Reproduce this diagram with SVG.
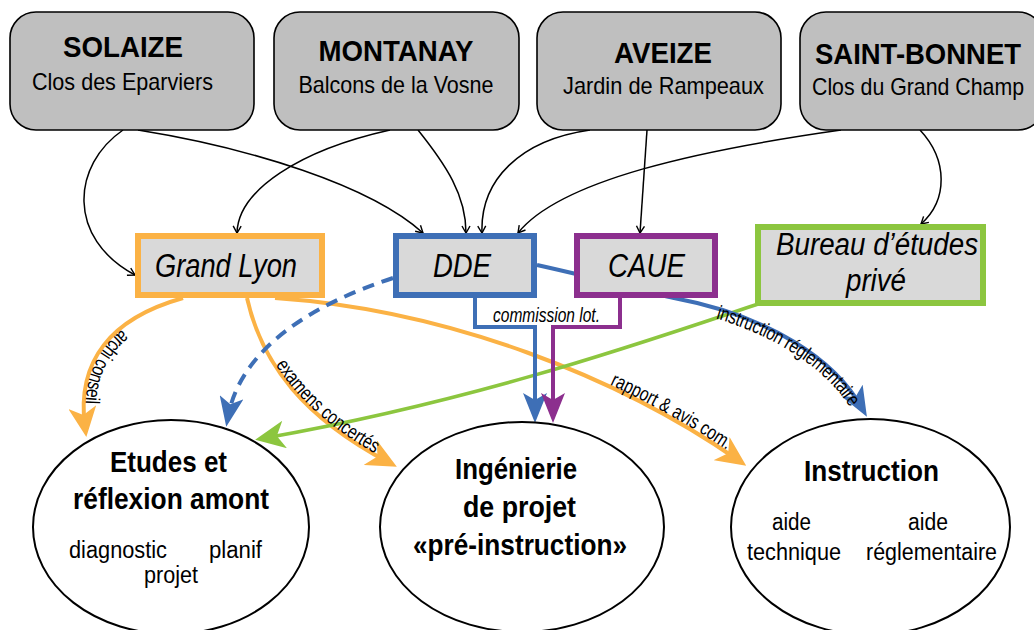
<svg xmlns="http://www.w3.org/2000/svg" width="1034" height="630" viewBox="0 0 1034 630">
<style>
text{font-family:"Liberation Sans",Arial,sans-serif;fill:#000}
.top{fill:#bfbfbf;stroke:#000;stroke-width:1.6}
.mid{fill:#d9d9d9;stroke-width:6}
.ell{fill:#fff;stroke:#000;stroke-width:2}
.tt{font-size:30px;font-weight:bold;text-anchor:middle}
.ts{font-size:24px;text-anchor:middle}
.ti{font-size:33px;font-style:italic;text-anchor:middle}
.eb{font-size:30px;font-weight:bold;text-anchor:middle}
.en{font-size:23px;text-anchor:middle}
.lbl{font-size:20px}
.blk{fill:none;stroke:#000;stroke-width:1.5}
.or{fill:none;stroke:#fbb245;stroke-width:4}
.bl{fill:none;stroke:#3e6fb6;stroke-width:4}
.pu{fill:none;stroke:#8c2f8e;stroke-width:4}
.gr{fill:none;stroke:#8cc63f;stroke-width:3.5}
</style>
<defs>
<marker id="aK" viewBox="-2 -2 12 12" markerWidth="12" markerHeight="12" refX="7" refY="4" orient="auto" markerUnits="userSpaceOnUse"><path d="M0,0 L7,4 L0,8" fill="none" stroke="#000" stroke-width="1.4"/></marker>
<marker id="aO" viewBox="0 0 30 28" markerWidth="30" markerHeight="28" refX="20" refY="14" orient="auto" markerUnits="userSpaceOnUse"><path d="M0,0 L30,14 L0,28 L8,14 Z" fill="#fbb245"/></marker>
<marker id="aB" viewBox="0 0 30 24" markerWidth="30" markerHeight="24" refX="20" refY="12" orient="auto" markerUnits="userSpaceOnUse"><path d="M0,0 L30,12 L0,24 L7,12 Z" fill="#3e6fb6"/></marker>
<marker id="aP" viewBox="0 0 30 24" markerWidth="30" markerHeight="24" refX="20" refY="12" orient="auto" markerUnits="userSpaceOnUse"><path d="M0,0 L30,12 L0,24 L7,12 Z" fill="#8c2f8e"/></marker>
<marker id="aG" viewBox="0 0 30 28" markerWidth="30" markerHeight="28" refX="20" refY="14" orient="auto" markerUnits="userSpaceOnUse"><path d="M0,0 L30,14 L0,28 L8,14 Z" fill="#8cc63f"/></marker>
</defs>

<g id="connectors">
<path class="blk" d="M123,130 C72,165 66,238 135,275" marker-end="url(#aK)"/>
<path class="blk" d="M138,130 C250,148 370,185 423,233" marker-end="url(#aK)"/>
<path class="blk" d="M390,130 C300,150 238,190 237,233" marker-end="url(#aK)"/>
<path class="blk" d="M418,130 C446,165 466,195 466,233" marker-end="url(#aK)"/>
<path class="blk" d="M590,130 C520,140 480,180 482,233" marker-end="url(#aK)"/>
<path class="blk" d="M647,130 L640,233" marker-end="url(#aK)"/>
<path class="blk" d="M841,130 C700,150 560,180 518,233" marker-end="url(#aK)"/>
<path class="blk" d="M920,130 C948,160 948,200 921,224" marker-end="url(#aK)"/>

<path id="pArchi" class="or" d="M183,298 C112,318 76,360 85,427" marker-end="url(#aO)"/>
<path id="pExam" class="or" d="M247,298 C262,365 305,418 388,462" marker-end="url(#aO)"/>
<path id="pRapp" class="or" d="M275,298 C450,310 620,378 738,460" marker-end="url(#aO)"/>
<path class="gr" d="M761,303 C650,340 480,400 265,438" marker-end="url(#aG)"/>
<path class="bl" d="M393,278 C310,305 240,350 228,417" stroke-dasharray="12 8" marker-end="url(#aB)"/>
<path id="pInstr" class="bl" d="M537,265 C600,279 640,290 674,298 C770,316 835,360 862,408" marker-end="url(#aB)"/>
<path class="bl" d="M475,298 V327 H535 V413" marker-end="url(#aB)"/>
<path class="pu" d="M620,298 V327 H553 V413" marker-end="url(#aP)"/>

<text class="lbl" dy="-2"><textPath href="#pArchi" startOffset="87%" text-anchor="end" textLength="87" lengthAdjust="spacingAndGlyphs">archi conseil</textPath></text>
<text class="lbl" dy="-1"><textPath href="#pExam" startOffset="93%" text-anchor="end" textLength="135" lengthAdjust="spacingAndGlyphs">examens concertés</textPath></text>
<text class="lbl" dy="-2"><textPath href="#pRapp" startOffset="97%" text-anchor="end" textLength="134" lengthAdjust="spacingAndGlyphs">rapport &amp; avis com.</textPath></text>
<text class="lbl" dy="10"><textPath href="#pInstr" startOffset="98%" text-anchor="end" textLength="171" lengthAdjust="spacingAndGlyphs">instruction réglementaire</textPath></text>
<text class="lbl" x="493" y="322" font-style="italic" textLength="107" lengthAdjust="spacingAndGlyphs">commission lot.</text>
</g>

<g id="solaize">
<rect class="top" x="10" y="12" width="244" height="118" rx="26"/>
<text class="tt" x="123" y="57" textLength="120" lengthAdjust="spacingAndGlyphs">SOLAIZE</text>
<text class="ts" x="122.5" y="90" textLength="181" lengthAdjust="spacingAndGlyphs">Clos des Eparviers</text>
</g>
<g id="montanay">
<rect class="top" x="274" y="12" width="245" height="118" rx="26"/>
<text class="tt" x="396" y="61" textLength="155" lengthAdjust="spacingAndGlyphs">MONTANAY</text>
<text class="ts" x="396" y="93" textLength="195" lengthAdjust="spacingAndGlyphs">Balcons de la Vosne</text>
</g>
<g id="aveize">
<rect class="top" x="537" y="12" width="244" height="118" rx="26"/>
<text class="tt" x="663" y="63" textLength="98" lengthAdjust="spacingAndGlyphs">AVEIZE</text>
<text class="ts" x="663.5" y="94" textLength="201" lengthAdjust="spacingAndGlyphs">Jardin de Rampeaux</text>
</g>
<g id="saint-bonnet">
<rect class="top" x="800" y="12" width="244" height="118" rx="26"/>
<text class="tt" x="918" y="64" textLength="206" lengthAdjust="spacingAndGlyphs">SAINT-BONNET</text>
<text class="ts" x="918" y="95" textLength="212" lengthAdjust="spacingAndGlyphs">Clos du Grand Champ</text>
</g>

<g id="grand-lyon">
<rect class="mid" x="138" y="236" width="184" height="59" stroke="#fbb245"/>
<text class="ti" x="226" y="277" textLength="142" lengthAdjust="spacingAndGlyphs">Grand Lyon</text>
</g>
<g id="dde">
<rect class="mid" x="396" y="236" width="138" height="59" stroke="#3e6fb6"/>
<text class="ti" x="462" y="277" textLength="58" lengthAdjust="spacingAndGlyphs">DDE</text>
</g>
<g id="caue">
<rect class="mid" x="577" y="236" width="138" height="59" stroke="#8c2f8e"/>
<text class="ti" x="646.5" y="277" textLength="77" lengthAdjust="spacingAndGlyphs">CAUE</text>
</g>
<g id="bureau">
<rect class="mid" x="758" y="227" width="225" height="76" stroke="#8cc63f"/>
<text class="ti" x="877" y="255" style="font-size:31px" textLength="202" lengthAdjust="spacingAndGlyphs">Bureau d’études</text>
<text class="ti" x="876" y="291" style="font-size:31px" textLength="60" lengthAdjust="spacingAndGlyphs">privé</text>
</g>

<g id="etudes">
<ellipse class="ell" cx="171" cy="527" rx="138" ry="107"/>
<text class="eb" x="168.5" y="472" textLength="117" lengthAdjust="spacingAndGlyphs">Etudes et</text>
<text class="eb" x="171" y="509" textLength="196" lengthAdjust="spacingAndGlyphs">réflexion amont</text>
<text class="en" x="118" y="558" textLength="98" lengthAdjust="spacingAndGlyphs">diagnostic</text>
<text class="en" x="235.5" y="558" textLength="53" lengthAdjust="spacingAndGlyphs">planif</text>
<text class="en" x="171" y="583" textLength="54" lengthAdjust="spacingAndGlyphs">projet</text>
</g>
<g id="ingenierie">
<ellipse class="ell" cx="522" cy="527" rx="142" ry="105"/>
<text class="eb" x="516" y="479" textLength="122" lengthAdjust="spacingAndGlyphs">Ingénierie</text>
<text class="eb" x="519.5" y="517" textLength="113" lengthAdjust="spacingAndGlyphs">de projet</text>
<text class="eb" x="520" y="555" textLength="214" lengthAdjust="spacingAndGlyphs">«pré-instruction»</text>
</g>
<g id="instruction">
<ellipse class="ell" cx="870.5" cy="527" rx="139.5" ry="108"/>
<text class="eb" x="871.5" y="481" textLength="135" lengthAdjust="spacingAndGlyphs">Instruction</text>
<text class="en" x="791.5" y="530" textLength="39" lengthAdjust="spacingAndGlyphs">aide</text>
<text class="en" x="928" y="530" textLength="40" lengthAdjust="spacingAndGlyphs">aide</text>
<text class="en" x="794" y="560" textLength="94" lengthAdjust="spacingAndGlyphs">technique</text>
<text class="en" x="931.5" y="560" textLength="131" lengthAdjust="spacingAndGlyphs">réglementaire</text>
</g>
</svg>
